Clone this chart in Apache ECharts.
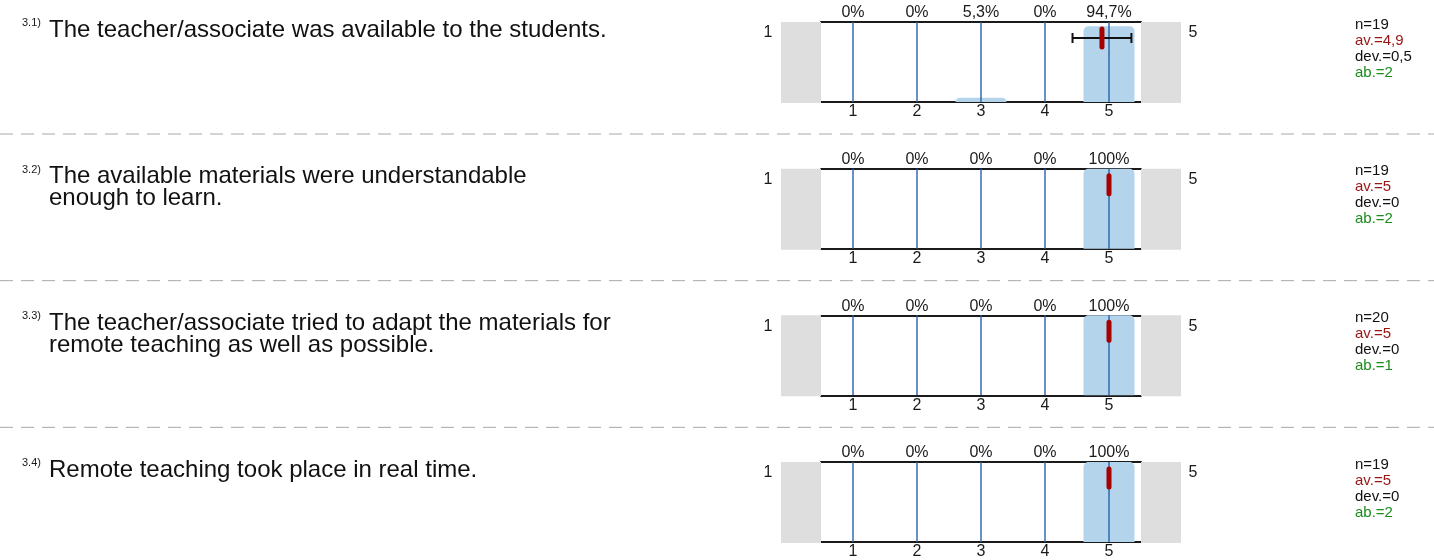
<!DOCTYPE html>
<html><head><meta charset="utf-8">
<script src="https://cdn.jsdelivr.net/npm/echarts@6/dist/echarts.min.js"></script>
<style>html,body{margin:0;padding:0;background:#fff}#c{width:1434px;height:560px}</style>
</head><body><div id="c"></div>
<script>
// ---- data ----
const categories = [1, 2, 3, 4, 5];
const questionIds = ['3.1)', '3.2)', '3.3)', '3.4)'];
const questionTexts = [
  'The teacher/associate was available to the students.',
  'The available materials were understandable\nenough to learn.',
  'The teacher/associate tried to adapt the materials for\nremote teaching as well as possible.',
  'Remote teaching took place in real time.'
];
const pctQ1 = [0, 0, 5.3, 0, 94.7];
const pctQ2 = [0, 0, 0, 0, 100];
const pctQ3 = [0, 0, 0, 0, 100];
const pctQ4 = [0, 0, 0, 0, 100];
const percentages = [pctQ1, pctQ2, pctQ3, pctQ4];
const nValues = [19, 19, 20, 19];
const meanValues = [4.89, 5, 5, 5];
const devValues = [0.46, 0, 0, 0];
const abstValues = [2, 2, 1, 2];
const scaleLeftLabel = '1';
const scaleRightLabel = '5';

// ---- helpers / layout ----
const FONT = '"Liberation Sans", Arial, sans-serif';
const PANEL_STEP = 146.67;
const fmtNum = v => { const r = Math.round(v * 10) / 10; return (Number.isInteger(r) ? String(r) : r.toFixed(1)).replace('.', ','); };
const fmtPct = v => fmtNum(v) + '%';

const grids = [], xAxes = [], yAxes = [], series = [], graphics = [];

percentages.forEach((pcts, i) => {
  const top = 22 + i * PANEL_STEP;
  grids.push({left: 821, width: 320, top: top, height: 80});
  const axisBase = {
    gridIndex: i, type: 'value', min: 0.5, max: 5.5,
    axisLine: {show: true, onZero: false, lineStyle: {color: '#1a1a1a', width: 2}},
    axisTick: {show: false}, splitLine: {show: false}
  };
  xAxes.push(Object.assign({}, axisBase, {
    position: 'bottom',
    axisLabel: {customValues: categories, color: '#1a1a1a', fontSize: 16, fontFamily: FONT, margin: 2}
  }));
  xAxes.push(Object.assign({}, axisBase, {
    position: 'top',
    axisLabel: {customValues: categories, color: '#1a1a1a', fontSize: 16, fontFamily: FONT, margin: 1,
      formatter: v => fmtPct(pcts[categories.indexOf(Math.round(v))])}
  }));
  yAxes.push({gridIndex: i, type: 'value', min: 0, max: 100, show: false});

  series.push({
    type: 'bar', xAxisIndex: 2 * i, yAxisIndex: i, silent: true, z: 2,
    barWidth: 51,
    itemStyle: {color: '#b4d4eb', borderRadius: [5, 5, 0, 0]},
    data: categories.map((c, k) => [c, pcts[k]])
  });
  series.push({
    type: 'custom', xAxisIndex: 2 * i, yAxisIndex: i, silent: true, z: 3,
    data: categories.map(c => [c, 100]),
    renderItem: (p, api) => {
      const a = api.coord([api.value(0), 0]);
      const b = api.coord([api.value(0), 100]);
      return {type: 'line', shape: {x1: a[0], y1: a[1], x2: b[0], y2: b[1]},
        style: {stroke: '#2563a8', lineWidth: 1.4}};
    }
  });
  series.push({
    type: 'custom', xAxisIndex: 2 * i, yAxisIndex: i, silent: true, z: 4, clip: false,
    data: [[meanValues[i], devValues[i]]],
    renderItem: (p, api) => {
      const mean = api.value(0), dev = api.value(1);
      const lb = api.coord([0.5, 0]), lt = api.coord([0.5, 100]);
      const rb = api.coord([5.5, 0]);
      const yT = lt[1], yB = lb[1];
      const children = [
        {type: 'rect', shape: {x: lb[0] - 40, y: yT, width: 40, height: yB - yT + 1}, style: {fill: '#dedede'}},
        {type: 'rect', shape: {x: rb[0], y: yT, width: 40, height: yB - yT + 1}, style: {fill: '#dedede'}},
        {type: 'text', style: {text: scaleLeftLabel, x: lb[0] - 53, y: yT + 11, font: '16px ' + FONT, fill: '#1a1a1a', textAlign: 'center', textVerticalAlign: 'middle'}},
        {type: 'text', style: {text: scaleRightLabel, x: rb[0] + 52, y: yT + 11, font: '16px ' + FONT, fill: '#1a1a1a', textAlign: 'center', textVerticalAlign: 'middle'}}
      ];
      if (dev > 0) {
        const e1 = api.coord([mean - dev, 0])[0], e2 = api.coord([mean + dev, 0])[0];
        const ey = yT + 16;
        children.push({type: 'line', shape: {x1: e1, y1: ey, x2: e2, y2: ey}, style: {stroke: '#111', lineWidth: 2}});
        children.push({type: 'line', shape: {x1: e1, y1: ey - 5, x2: e1, y2: ey + 5}, style: {stroke: '#111', lineWidth: 2}});
        children.push({type: 'line', shape: {x1: e2, y1: ey - 5, x2: e2, y2: ey + 5}, style: {stroke: '#111', lineWidth: 2}});
      }
      const mx = api.coord([mean, 0])[0];
      children.push({type: 'line', shape: {x1: mx, y1: yT + 7, x2: mx, y2: yT + 25},
        style: {stroke: '#a60000', lineWidth: 5, lineCap: 'round'}});
      return {type: 'group', children: children};
    }
  });

  // question id and text
  graphics.push({type: 'text', style: {text: questionIds[i], x: 22, y: top + 1, font: '11px ' + FONT, fill: '#1a1a1a', textVerticalAlign: 'middle'}});
  graphics.push({type: 'text', style: {text: questionTexts[i], x: 49, y: top - 3, font: '24px ' + FONT, lineHeight: 22, fill: '#111', textVerticalAlign: 'top'}});
  // stats
  const stats = [
    ['n=' + nValues[i], '#111'],
    ['av.=' + fmtNum(meanValues[i]), '#991414'],
    ['dev.=' + fmtNum(devValues[i]), '#111'],
    ['ab.=' + abstValues[i], '#1a8c1a']
  ];
  stats.forEach((s, k) => {
    graphics.push({type: 'text', style: {text: s[0], x: 1355, y: top + 2.5 + k * 16, font: '15px ' + FONT, fill: s[1], textVerticalAlign: 'middle'}});
  });
  if (i < percentages.length - 1) {
    const sy = 134 + i * PANEL_STEP;
    graphics.push({type: 'line', shape: {x1: 0, y1: sy, x2: 1434, y2: sy}, style: {stroke: '#a8a8a8', lineWidth: 1, lineDash: [13, 8]}});
  }
});

const chart = echarts.init(document.getElementById('c'), null, {renderer: 'canvas'});
chart.setOption({
  animation: false,
  backgroundColor: '#fff',
  grid: grids, xAxis: xAxes, yAxis: yAxes, series: series, graphic: graphics
});
</script></body></html>
